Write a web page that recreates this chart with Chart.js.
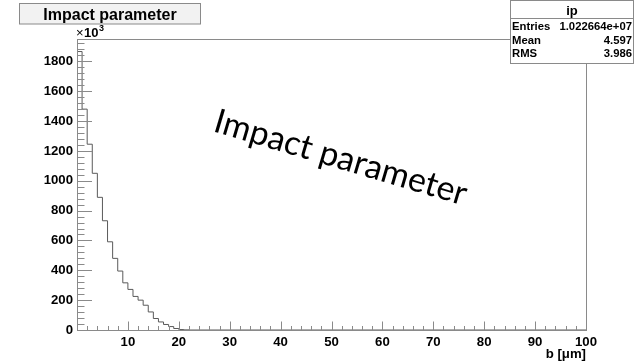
<!DOCTYPE html>
<html>
<head>
<meta charset="utf-8">
<script src="https://cdn.jsdelivr.net/npm/chart.js@4.4.1/dist/chart.umd.min.js"></script>
<style>
  html, body { margin: 0; padding: 0; background: #ffffff; }
  #wrap { width: 634px; height: 363px; }
</style>
</head>
<body>
<div id="wrap"><canvas id="c" width="634" height="363"></canvas></div>
<script>
// Histogram "ip": impact parameter b [um], bins of width 1, counts in units of 10^3
const binLow = [0, 1, 2, 3, 4, 5, 6, 7, 8, 9, 10, 11, 12, 13, 14, 15, 16, 17, 18, 19, 20, 21];
const counts = [1866, 1480, 1245, 1050, 889, 732, 591, 480, 395, 316, 272, 225, 200, 166, 121, 77, 54, 37, 23, 10, 3, 1];
const xRange = [0, 100];
const yRange = [0, 1950];
const xTickLabels = [10, 20, 30, 40, 50, 60, 70, 80, 90, 100];
const yTickLabels = [0, 200, 400, 600, 800, 1000, 1200, 1400, 1600, 1800];
const statsRows = [["Entries", "1.022664e+07"], ["Mean", "4.597"], ["RMS", "3.986"]];

const axisColor = '#8a8a8a';
const histColor = '#5a5a5a';

// Step outline: each point holds its bin content up to the next bin edge
const points = [{ x: binLow[0], y: 0 }];
binLow.forEach((x, i) => points.push({ x: x, y: counts[i] }));
points.push({ x: binLow[binLow.length - 1] + 1, y: 0 });
points.push({ x: xRange[1], y: 0 });

const rootDecor = {
  id: 'rootDecor',
  afterDraw(chart) {
    const ctx = chart.ctx;
    const xs = chart.scales.x, ys = chart.scales.y;
    const a = chart.chartArea;
    ctx.save();

    // frame
    ctx.strokeStyle = axisColor;
    ctx.lineWidth = 1;
    ctx.strokeRect(Math.round(a.left) + 0.5, Math.round(a.top) + 0.5,
                   Math.round(a.right - a.left), Math.round(a.bottom - a.top));

    // x ticks (inward): major every 10, minor every 2
    ctx.beginPath();
    for (let v = xRange[0]; v <= xRange[1]; v += 2) {
      const px = Math.round(xs.getPixelForValue(v)) + 0.5;
      const len = (v % 10 === 0) ? 8.5 : 4;
      ctx.moveTo(px, a.bottom);
      ctx.lineTo(px, a.bottom - len);
    }
    // y ticks (inward): major every 200, minor every 40
    for (let v = yRange[0]; v <= yRange[1]; v += 40) {
      const py = Math.round(ys.getPixelForValue(v)) + 0.5;
      const len = (v % 200 === 0) ? 15 : 7.5;
      ctx.moveTo(a.left, py);
      ctx.lineTo(a.left + len, py);
    }
    ctx.stroke();

    // exponent label of the y axis
    ctx.fillStyle = '#000';
    ctx.textBaseline = 'alphabetic';
    ctx.textAlign = 'left';
    ctx.font = '13px "Liberation Sans", Arial, sans-serif';
    ctx.fillText('\u00d7', a.left - 1, 37);
    ctx.font = 'bold 13px "Liberation Sans", Arial, sans-serif';
    ctx.fillText('10', a.left + 7, 37);
    ctx.font = 'bold 9px "Liberation Sans", Arial, sans-serif';
    ctx.fillText('3', a.left + 22, 31);

    // x axis title
    ctx.font = 'bold 13.2px "Liberation Sans", Arial, sans-serif';
    ctx.textAlign = 'right';
    ctx.fillText('b [\u03bcm]', a.right, 358);

    // title box
    ctx.fillStyle = '#f2f2f2';
    ctx.fillRect(19.5, 3.5, 181, 20.5);
    ctx.strokeStyle = '#8a8a8a';
    ctx.strokeRect(19.5, 3.5, 181, 20.5);
    ctx.fillStyle = '#000';
    ctx.textAlign = 'center';
    ctx.font = 'bold 16px "Liberation Sans", Arial, sans-serif';
    ctx.fillText('Impact parameter', 110, 19.5);

    // statistics box
    ctx.fillStyle = '#ffffff';
    ctx.fillRect(510.5, 0.5, 123, 63);
    ctx.strokeStyle = '#8a8a8a';
    ctx.strokeRect(510.5, 0.5, 123, 63);
    ctx.beginPath();
    ctx.moveTo(510.5, 18.5);
    ctx.lineTo(634, 18.5);
    ctx.stroke();
    ctx.fillStyle = '#000';
    ctx.font = 'bold 13px "Liberation Sans", Arial, sans-serif';
    ctx.textAlign = 'center';
    ctx.fillText('ip', 572, 15);
    ctx.font = 'bold 11.3px "Liberation Sans", Arial, sans-serif';
    statsRows.forEach((row, i) => {
      const y = 30 + i * 13.5;
      ctx.textAlign = 'left';
      ctx.fillText(row[0], 512, y);
      ctx.textAlign = 'right';
      ctx.fillText(row[1], 632, y);
    });

    // slanted caption across the plot
    const caption = 'Impact parameter';
    const angle = 16.5 * Math.PI / 180;
    const targetWidth = 262;
    let size = 30;
    ctx.font = size + 'px Lato, "Open Sans", sans-serif';
    size = size * targetWidth / ctx.measureText(caption).width;
    ctx.font = size.toFixed(2) + 'px Lato, "Open Sans", sans-serif';
    ctx.translate(212, 131);
    ctx.rotate(angle);
    ctx.textAlign = 'left';
    ctx.textBaseline = 'alphabetic';
    ctx.fillStyle = '#000';
    ctx.fillText(caption, 0, 0);

    ctx.restore();
  }
};

const tickFont = { family: '"Liberation Sans", Arial, sans-serif', size: 13.2, weight: 'bold' };

new Chart(document.getElementById('c'), {
  type: 'line',
  data: {
    datasets: [{
      label: 'ip',
      data: points,
      stepped: true,
      borderColor: histColor,
      borderWidth: 1,
      pointRadius: 0,
      fill: false,
      tension: 0
    }]
  },
  options: {
    responsive: false,
    animation: false,
    events: [],
    layout: { padding: { top: 39, right: 48, left: 0, bottom: 0 } },
    plugins: { legend: { display: false }, tooltip: { enabled: false }, title: { display: false } },
    scales: {
      x: {
        type: 'linear',
        min: xRange[0],
        max: xRange[1],
        grid: { display: false, drawTicks: false },
        border: { display: false },
        afterFit(scale) { scale.height = 33; },
        afterBuildTicks(scale) { scale.ticks = xTickLabels.map(v => ({ value: v })); },
        ticks: {
          autoSkip: false,
          maxRotation: 0,
          padding: 4,
          color: '#000',
          font: tickFont,
          callback: (v) => String(v)
        }
      },
      y: {
        type: 'linear',
        min: yRange[0],
        max: yRange[1],
        grid: { display: false, drawTicks: false },
        border: { display: false },
        afterFit(scale) { scale.width = 77; },
        afterBuildTicks(scale) { scale.ticks = yTickLabels.map(v => ({ value: v })); },
        ticks: {
          autoSkip: false,
          padding: 4,
          color: '#000',
          font: tickFont,
          callback: (v) => String(v)
        }
      }
    }
  },
  plugins: [rootDecor]
});
</script>
</body>
</html>
